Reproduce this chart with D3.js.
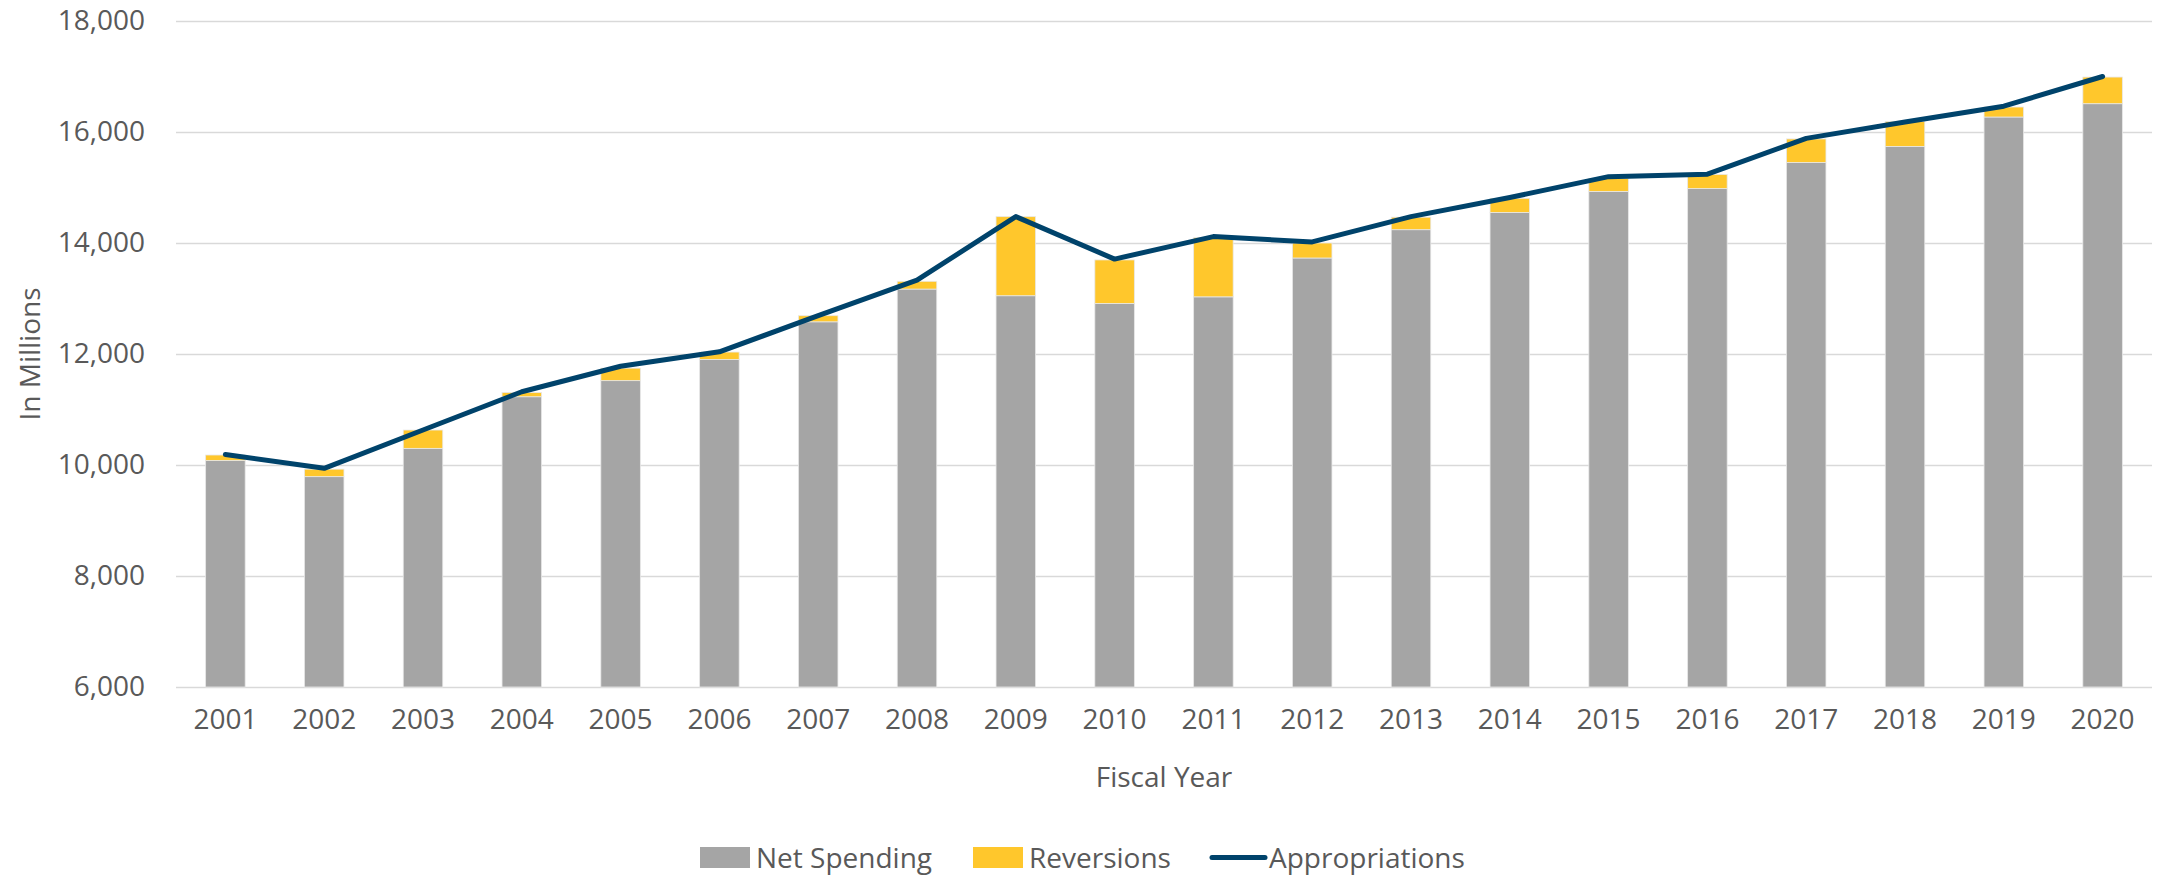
<!DOCTYPE html>
<html lang="en">
<head>
<meta charset="UTF-8">
<title>Appropriations, Net Spending and Reversions</title>
<script src="https://cdn.jsdelivr.net/npm/d3@7"></script>
<style>
    body { margin: 0; background: #fff; }
    text { font-family: "Open Sans", sans-serif; fill: #595959; }
</style>
</head>
<body>
<script>
    var years = ["2001", "2002", "2003", "2004", "2005", "2006", "2007", "2008", "2009", "2010",
        "2011", "2012", "2013", "2014", "2015", "2016", "2017", "2018", "2019", "2020"];
    var netSpending = [10080, 9790, 10300, 11230, 11520, 11900, 12580, 13170, 13050, 12910,
        13030, 13730, 14240, 14550, 14930, 14980, 15450, 15740, 16270, 16510];
    var reversions = [100, 135, 330, 75, 225, 135, 110, 140, 1425, 785,
        1065, 270, 225, 255, 235, 255, 425, 450, 180, 480];
    var appropriations = [10190, 9940, 10630, 11320, 11780, 12040, 12690, 13330, 14475, 13710,
        14115, 14020, 14475, 14820, 15195, 15240, 15885, 16180, 16465, 17000];
    var yTicks = [6000, 8000, 10000, 12000, 14000, 16000, 18000];

    var width = 2165, height = 879;
    var margin = {top: 21, right: 13, bottom: 192, left: 176};
    var w = width - margin.left - margin.right;
    var h = height - margin.top - margin.bottom;

    var svg = d3.select("body").append("svg").attr("width", width).attr("height", height);
    var g = svg.append("g").attr("transform", "translate(" + margin.left + "," + margin.top + ")");

    var x = d3.scaleBand().domain(years).range([0, w]).paddingInner(0.6).paddingOuter(0.3);
    var y = d3.scaleLinear().domain([6000, 18000]).range([h, 0]);

    // gridlines + y labels
    var yAxis = g.append("g").call(d3.axisLeft(y).tickValues(yTicks).tickSize(-w).tickPadding(31).tickFormat(d3.format(",")));
    yAxis.select(".domain").remove();
    yAxis.selectAll("line").attr("stroke", "#d9d9d9").attr("stroke-width", 1.5);
    yAxis.selectAll("text").style("font-size", "28px").attr("fill", "#595959");

    var rows = years.map(function (d, i) {
        return {year: d, net: netSpending[i], rev: reversions[i]};
    });
    var stack = d3.stack().keys(["net", "rev"])(rows);
    var colors = {net: "#a5a5a5", rev: "#ffc72c"};

    g.selectAll(".series").data(stack).enter().append("g")
        .attr("fill", function (d) { return colors[d.key]; })
        .selectAll("rect").data(function (d) { return d; }).enter().append("rect")
        .attr("x", function (d) { return x(d.data.year); })
        .attr("width", x.bandwidth())
        .attr("y", function (d) { return y(Math.max(d[1], 6000)); })
        .attr("height", function (d) { return y(Math.max(d[0], 6000)) - y(Math.max(d[1], 6000)); })
        .attr("stroke", "#e8e8e8").attr("stroke-width", 0.8);

    var line = d3.line()
        .x(function (d, i) { return x(years[i]) + x.bandwidth() / 2; })
        .y(function (d) { return y(d); });
    g.append("path").datum(appropriations)
        .attr("d", line).attr("fill", "none")
        .attr("stroke", "#00436b").attr("stroke-width", 5)
        .attr("stroke-linejoin", "round").attr("stroke-linecap", "round");

    // x axis
    var xAxis = g.append("g").attr("transform", "translate(0," + h + ")")
        .call(d3.axisBottom(x).tickSize(0).tickPadding(22));
    xAxis.select(".domain").remove();
    xAxis.selectAll("text").style("font-size", "28px").attr("fill", "#595959");

    svg.append("text").attr("x", margin.left + w / 2).attr("y", 787)
        .attr("text-anchor", "middle").style("font-size", "28px").text("Fiscal Year");

    svg.append("text").attr("transform", "translate(40," + (margin.top + h / 2) + ") rotate(-90)")
        .attr("text-anchor", "middle").style("font-size", "28px").text("In Millions");

    // legend
    var leg = svg.append("g");
    leg.append("rect").attr("x", 700).attr("y", 847).attr("width", 50).attr("height", 21).attr("fill", colors.net);
    leg.append("text").attr("x", 756).attr("y", 868).style("font-size", "28px").text("Net Spending");
    leg.append("rect").attr("x", 973).attr("y", 847).attr("width", 50).attr("height", 21).attr("fill", colors.rev);
    leg.append("text").attr("x", 1029).attr("y", 868).style("font-size", "28px").text("Reversions");
    leg.append("line").attr("x1", 1212).attr("x2", 1265).attr("y1", 857.5).attr("y2", 857.5)
        .attr("stroke", "#00436b").attr("stroke-width", 5).attr("stroke-linecap", "round");
    leg.append("text").attr("x", 1269).attr("y", 868).style("font-size", "28px").text("Appropriations");
</script>
</body>
</html>
